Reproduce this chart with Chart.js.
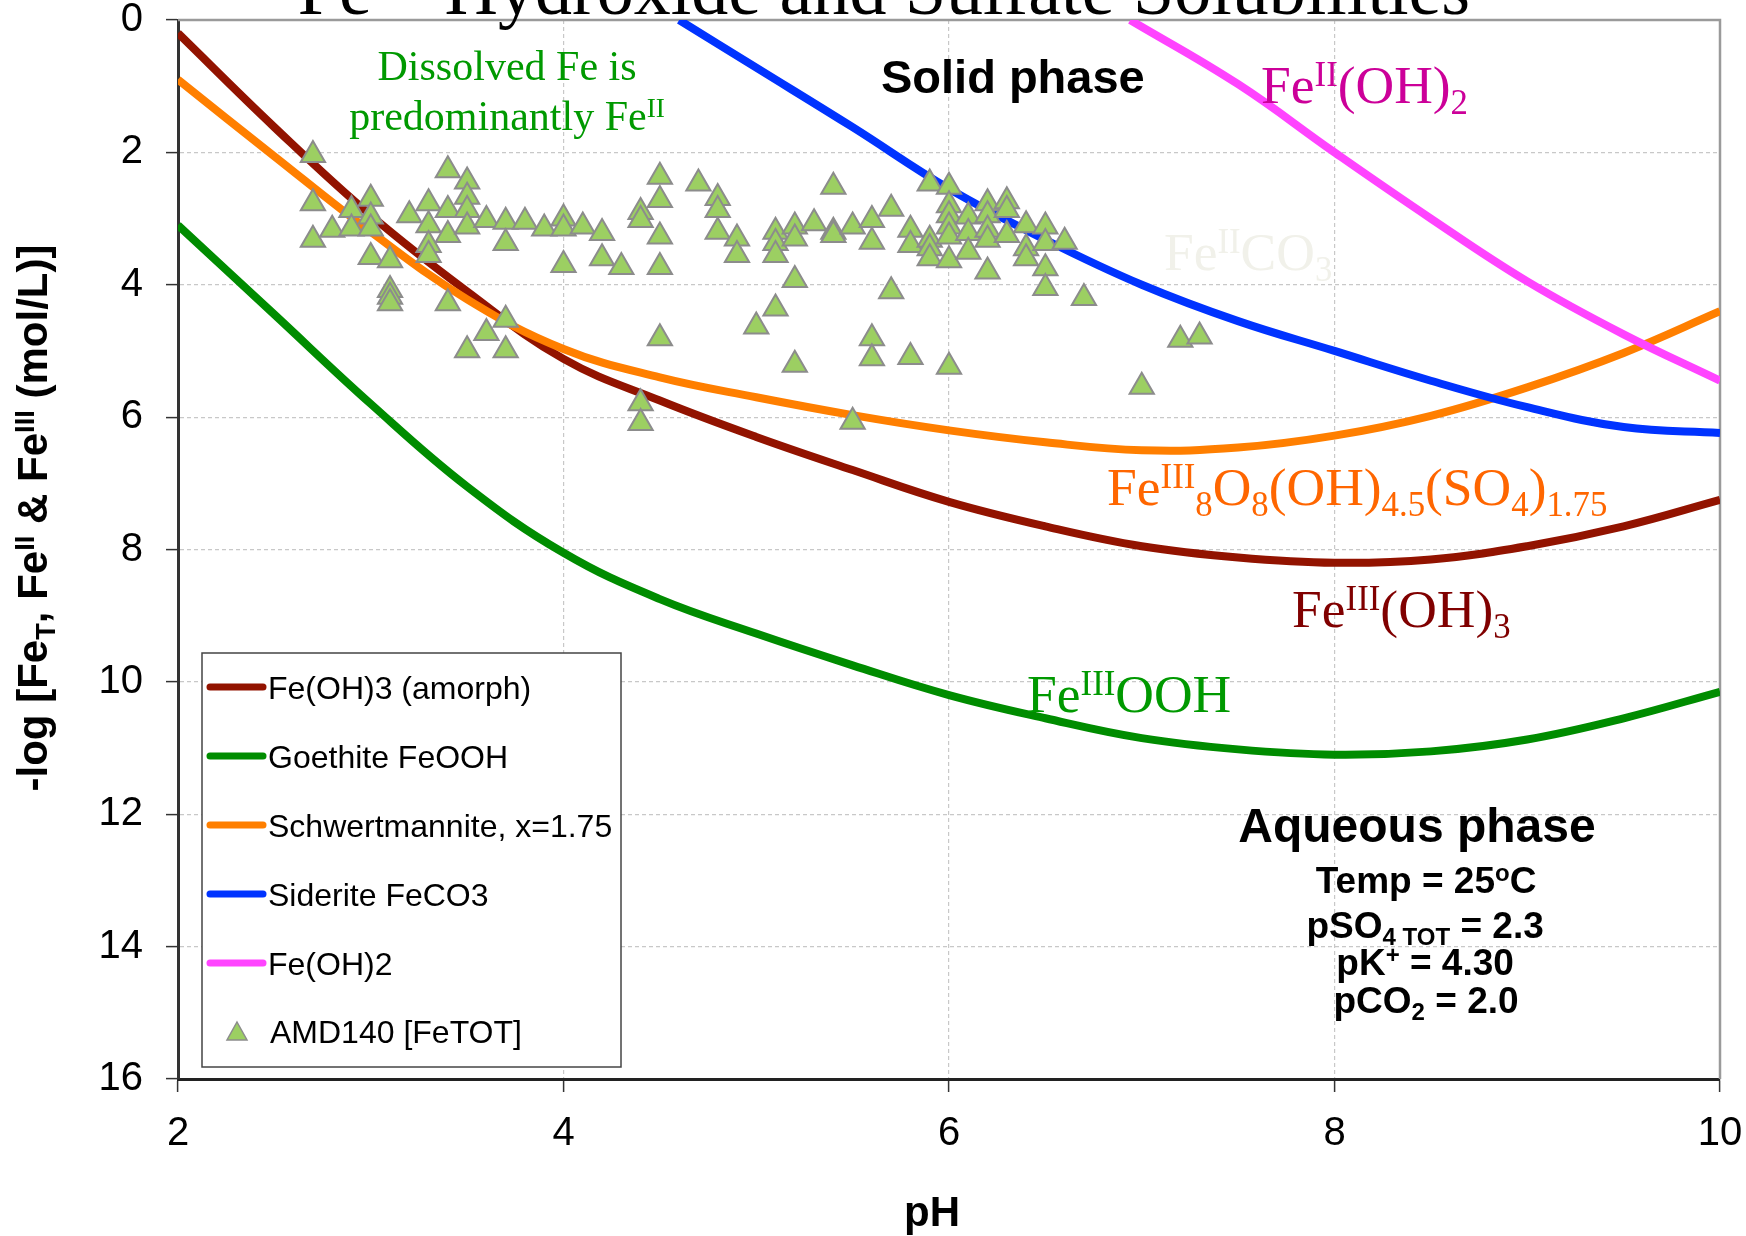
<!DOCTYPE html>
<html>
<head>
<meta charset="utf-8">
<script src="https://cdn.jsdelivr.net/npm/chart.js@4.4.0/dist/chart.umd.min.js"></script>
<style>
  html, body { margin: 0; padding: 0; background: #fff; }
  #wrap { width: 1746px; height: 1236px; position: relative; }
</style>
</head>
<body>
<div id="wrap"><canvas id="myChart"></canvas></div>
<script>
// solubility curves, -log Fe (mol/L) vs pH
const phSteps = [2, 2.5, 3, 3.5, 4, 4.5, 5, 5.5, 6, 6.5, 7, 7.5, 8, 8.5, 9, 9.5, 10];
const amorphFe = [0.2, 1.62, 2.95, 4.1, 5.12, 5.75, 6.3, 6.8, 7.28, 7.65, 7.95, 8.12, 8.2, 8.15, 7.95, 7.65, 7.25];
const goethiteFe = [3.1, 4.45, 5.8, 7.05, 8.05, 8.75, 9.27, 9.75, 10.2, 10.55, 10.85, 11.02, 11.1, 11.05, 10.87, 10.55, 10.15];
const schwertFe = [0.9, 2.06, 3.2, 4.22, 4.97, 5.4, 5.7, 5.97, 6.2, 6.38, 6.5, 6.46, 6.28, 5.98, 5.55, 5.03, 4.4];

const sideritePH = [4.6, 5, 5.5, 6, 6.5, 7, 7.5, 8, 8.5, 9, 9.5, 10];
const sideriteFe = [0, 0.72, 1.62, 2.55, 3.32, 4.0, 4.55, 5.0, 5.45, 5.85, 6.15, 6.24];

const feOH2PH = [6.94, 7.5, 8, 8.5, 9, 9.5, 10];
const feOH2Fe = [0, 0.97, 2.0, 3.0, 3.95, 4.75, 5.45];

// AMD140 samples
const amdPH = [
  2.7, 2.7, 2.7, 2.8, 2.9, 2.9, 3.0, 3.0, 3.0, 3.0,
  3.1, 3.1, 3.1, 3.1, 3.2, 3.3, 3.3, 3.3, 3.3,
  3.4, 3.4, 3.4, 3.4, 3.5, 3.5, 3.5, 3.5, 3.5,
  3.6, 3.6, 3.7, 3.7, 3.7, 3.7, 3.8, 3.9,
  4.0, 4.0, 4.0, 4.1, 4.2, 4.2, 4.3,
  4.4, 4.4, 4.4, 4.4, 4.5, 4.5, 4.5, 4.5, 4.5,
  4.7, 4.8, 4.8, 4.8, 4.9, 4.9, 5.0,
  5.1, 5.1, 5.1, 5.1, 5.2, 5.2, 5.2, 5.2, 5.3,
  5.4, 5.4, 5.4, 5.5, 5.5, 5.6, 5.6, 5.6, 5.6,
  5.7, 5.7, 5.8, 5.8, 5.8, 5.9, 5.9, 5.9, 5.9,
  6.0, 6.0, 6.0, 6.0, 6.0, 6.0, 6.0,
  6.1, 6.1, 6.1, 6.2, 6.2, 6.2, 6.2, 6.2,
  6.3, 6.3, 6.3, 6.4, 6.4, 6.4, 6.5, 6.5, 6.5, 6.5,
  6.6, 6.7, 7.0, 7.2, 7.3
];
const amdLogFe = [
  2.04, 2.77, 3.32, 3.17, 2.87, 3.15, 2.7, 2.97, 3.15, 3.58,
  3.63, 4.08, 4.18, 4.28, 2.95, 2.77, 3.1, 3.4, 3.55,
  2.27, 2.87, 3.25, 4.28, 2.44, 2.67, 2.87, 3.12, 4.99,
  3.02, 4.73, 3.05, 3.37, 4.53, 4.99, 3.05, 3.15,
  3.0, 3.15, 3.7, 3.12, 3.22, 3.6, 3.73,
  2.9, 3.02, 5.79, 6.09, 2.37, 2.72, 3.27, 3.73, 4.81,
  2.47, 2.69, 2.87, 3.2, 3.3, 3.55, 4.63,
  3.2, 3.37, 3.55, 4.36, 3.12, 3.3, 3.93, 5.21, 3.07,
  2.52, 3.2, 3.25, 3.12, 6.07, 3.02, 3.35, 4.81, 5.11,
  2.85, 4.1, 3.17, 3.4, 5.09, 2.47, 3.32, 3.45, 3.6,
  2.52, 2.8, 2.95, 3.12, 3.27, 3.63, 5.24,
  2.97, 3.22, 3.5, 2.77, 2.95, 3.17, 3.32, 3.8,
  2.74, 2.87, 3.25, 3.1, 3.45, 3.6, 3.12, 3.37, 3.75, 4.05,
  3.35, 4.2, 5.54, 4.83, 4.78
];

const xTicks = [2, 4, 6, 8, 10];
const yTicks = [0, 2, 4, 6, 8, 10, 12, 14, 16];

const SANS = "'Liberation Sans', Arial, sans-serif";
const SERIF = "'Liberation Serif', 'Times New Roman', serif";

const pairs = (xs, ys) => xs.map((x, i) => ({ x: x, y: ys[i] }));

// draw text made of normal / superscript / subscript pieces
function drawRich(ctx, parts, x, y, size, family, weight, color, align) {
  ctx.save();
  ctx.fillStyle = color;
  ctx.textBaseline = 'alphabetic';
  ctx.textAlign = 'left';
  const fontFor = m => weight + ' ' + (m === 'n' ? size : size * 0.65) + 'px ' + family;
  const widths = parts.map(p => { ctx.font = fontFor(p[1]); return ctx.measureText(p[0]).width; });
  const total = widths.reduce((a, b) => a + b, 0);
  let cx = align === 'center' ? x - total / 2 : x;
  parts.forEach((p, i) => {
    ctx.font = fontFor(p[1]);
    const dy = p[1] === 'sup' ? -size * 0.32 : p[1] === 'sub' ? size * 0.2 : 0;
    ctx.fillText(p[0], cx, y + dy);
    cx += widths[i];
  });
  ctx.restore();
}

// in-plot annotations, anchored in data units
const notes = [
  { parts: [['Dissolved Fe is', 'n']], ph: 3.707, v: 0.906, size: 42, fam: SERIF, w: 'normal', color: '#009900', align: 'center' },
  { parts: [['predominantly Fe', 'n'], ['II', 'sup']], ph: 3.707, v: 1.662, size: 42, fam: SERIF, w: 'normal', color: '#009900', align: 'center' },
  { parts: [['Solid phase', 'n']], ph: 5.647, v: 1.103, size: 47, fam: SANS, w: 'bold', color: '#000', align: 'left' },
  { parts: [['Fe', 'n'], ['II', 'sup'], ['(OH)', 'n'], ['2', 'sub']], ph: 7.619, v: 1.254, size: 53.5, fam: SERIF, w: 'normal', color: '#cc0099', align: 'left' },
  { parts: [['Fe', 'n'], ['II', 'sup'], ['CO', 'n'], ['3', 'sub']], ph: 7.115, v: 3.777, size: 53.5, fam: SERIF, w: 'normal', color: '#f1f1ea', align: 'left' },
  { parts: [['Fe', 'n'], ['III', 'sup'], ['8', 'sub'], ['O', 'n'], ['8', 'sub'], ['(OH)', 'n'], ['4.5', 'sub'], ['(SO', 'n'], ['4', 'sub'], [')', 'n'], ['1.75', 'sub']], ph: 6.82, v: 7.327, size: 53.5, fam: SERIF, w: 'normal', color: '#ff6600', align: 'left' },
  { parts: [['Fe', 'n'], ['III', 'sup'], ['(OH)', 'n'], ['3', 'sub']], ph: 7.78, v: 9.17, size: 53.5, fam: SERIF, w: 'normal', color: '#800000', align: 'left' },
  { parts: [['Fe', 'n'], ['III', 'sup'], ['OOH', 'n']], ph: 6.405, v: 10.455, size: 53.5, fam: SERIF, w: 'normal', color: '#009900', align: 'left' },
  { parts: [['Aqueous phase', 'n']], ph: 8.428, v: 12.419, size: 48, fam: SANS, w: 'bold', color: '#000', align: 'center' },
  { parts: [['Temp = 25', 'n'], ['o', 'sup'], ['C', 'n']], ph: 8.475, v: 13.19, size: 37, fam: SANS, w: 'bold', color: '#000', align: 'center' },
  { parts: [['pSO', 'n'], ['4 TOT', 'sub'], [' = 2.3', 'n']], ph: 8.47, v: 13.87, size: 37, fam: SANS, w: 'bold', color: '#000', align: 'center' },
  { parts: [['pK', 'n'], ['+', 'sup'], [' = 4.30', 'n']], ph: 8.47, v: 14.43, size: 37, fam: SANS, w: 'bold', color: '#000', align: 'center' },
  { parts: [['pCO', 'n'], ['2', 'sub'], [' = 2.0', 'n']], ph: 8.475, v: 15.0, size: 37, fam: SANS, w: 'bold', color: '#000', align: 'center' }
];

const framePlugin = {
  id: 'frame',
  beforeDatasetsDraw(chart) {
    const { ctx, chartArea: a } = chart;
    ctx.save();
    ctx.strokeStyle = '#9a9a9a';
    ctx.lineWidth = 2.5;
    ctx.beginPath();
    ctx.moveTo(a.left, a.top);
    ctx.lineTo(a.right, a.top);
    ctx.lineTo(a.right, a.bottom);
    ctx.stroke();
    ctx.restore();
  }
};

const textPlugin = {
  id: 'texts',
  afterDraw(chart) {
    const { ctx, scales } = chart;
    // title, mostly above the picture
    drawRich(ctx, [['Fe', 'n'], ['III', 'sup'], ['-Hydroxide and Sulfate Solubilities', 'n']], 884, 14, 74, SERIF, 'normal', '#000', 'center');

    notes.forEach(n => {
      drawRich(ctx, n.parts, scales.x.getPixelForValue(n.ph), scales.y.getPixelForValue(n.v), n.size, n.fam, n.w, n.color, n.align);
    });

    // axis titles
    drawRich(ctx, [['pH', 'n']], 932, 1226, 42, SANS, 'bold', '#000', 'center');
    ctx.save();
    ctx.translate(47, 518);
    ctx.rotate(-Math.PI / 2);
    drawRich(ctx, [['-log [Fe', 'n'], ['T', 'sub'], [', Fe', 'n'], ['II', 'sup'], [' & Fe', 'n'], ['III', 'sup'], [' (mol/L)]', 'n']], 0, 0, 42, SANS, 'bold', '#000', 'center');
    ctx.restore();

    // legend box
    const box = { left: 202, top: 653, right: 621, bottom: 1067 };
    ctx.save();
    ctx.fillStyle = '#fff';
    ctx.fillRect(box.left, box.top, box.right - box.left, box.bottom - box.top);
    ctx.strokeStyle = '#444';
    ctx.lineWidth = 1.5;
    ctx.strokeRect(box.left, box.top, box.right - box.left, box.bottom - box.top);
    ctx.font = '32px ' + SANS;
    ctx.textBaseline = 'middle';
    ctx.fillStyle = '#000';
    const rowY = [687, 756, 825, 894, 963, 1032];
    chart.data.datasets.forEach((ds, i) => {
      const y = rowY[i];
      if (ds.showLine) {
        ctx.strokeStyle = ds.borderColor;
        ctx.lineWidth = 7;
        ctx.lineCap = 'round';
        ctx.beginPath();
        ctx.moveTo(210, y);
        ctx.lineTo(263, y);
        ctx.stroke();
        ctx.fillText(ds.label, 268, y + 3);
      } else {
        ctx.fillStyle = ds.backgroundColor;
        ctx.strokeStyle = ds.borderColor;
        ctx.lineWidth = 1.5;
        ctx.beginPath();
        ctx.moveTo(237, y - 10);
        ctx.lineTo(247, y + 8);
        ctx.lineTo(227, y + 8);
        ctx.closePath();
        ctx.fill();
        ctx.stroke();
        ctx.fillStyle = '#000';
        ctx.fillText(ds.label, 270, y + 2);
      }
    });
    ctx.restore();
  }
};

const lineSet = (label, data, color, order) => ({
  label: label,
  data: data,
  showLine: true,
  borderColor: color,
  backgroundColor: color,
  borderWidth: 8,
  pointRadius: 0,
  tension: 0.4,
  fill: false,
  order: order
});

const ctx = document.getElementById('myChart').getContext('2d');
const myChart = new Chart(ctx, {
  type: 'scatter',
  data: {
    datasets: [
      lineSet('Fe(OH)3 (amorph)', pairs(phSteps, amorphFe), '#921300', 6),
      lineSet('Goethite FeOOH', pairs(phSteps, goethiteFe), '#008c00', 5),
      lineSet('Schwertmannite, x=1.75', pairs(phSteps, schwertFe), '#ff7f00', 4),
      lineSet('Siderite FeCO3', pairs(sideritePH, sideriteFe), '#0033ff', 3),
      lineSet('Fe(OH)2', pairs(feOH2PH, feOH2Fe), '#ff44ff', 2),
      {
        label: 'AMD140 [FeTOT]',
        data: pairs(amdPH, amdLogFe),
        showLine: false,
        pointStyle: 'triangle',
        pointRadius: 14,
        pointBackgroundColor: '#9ccf62',
        pointBorderColor: '#8c8c8c',
        pointBorderWidth: 2,
        backgroundColor: '#9ccf62',
        borderColor: '#8c8c8c',
        order: 1
      }
    ]
  },
  options: {
    responsive: true,
    maintainAspectRatio: false,
    animation: false,
    layout: { padding: 0 },
    plugins: {
      legend: { display: false },
      tooltip: { enabled: false }
    },
    scales: {
      x: {
        type: 'linear',
        min: 2,
        max: 10,
        afterBuildTicks: s => { s.ticks = xTicks.map(v => ({ value: v })); },
        ticks: { color: '#000', font: { family: SANS, size: 40 }, padding: 18, maxRotation: 0 },
        grid: { color: '#c8c8c8', lineWidth: 1.2, tickColor: '#333', tickWidth: 1.5, tickLength: 13, tickBorderDash: [] },
        border: { display: true, color: '#222', width: 3, dash: [4, 3] },
        // fix the plot frame to the reference position
        afterFit: s => { s.height = 157; s.paddingLeft = 0; s.paddingRight = 26; }
      },
      y: {
        type: 'linear',
        reverse: true,
        min: 0,
        max: 16,
        afterBuildTicks: s => { s.ticks = yTicks.map(v => ({ value: v })); },
        ticks: { color: '#000', font: { family: SANS, size: 40 }, padding: 23 },
        grid: { color: '#c8c8c8', lineWidth: 1.2, tickColor: '#333', tickWidth: 1.5, tickLength: 12, tickBorderDash: [] },
        border: { display: true, color: '#333', width: 3, dash: [4, 3] },
        afterFit: s => { s.width = 178; s.paddingTop = 20; s.paddingBottom = 0; }
      }
    }
  },
  plugins: [framePlugin, textPlugin]
});
</script>
</body>
</html>
